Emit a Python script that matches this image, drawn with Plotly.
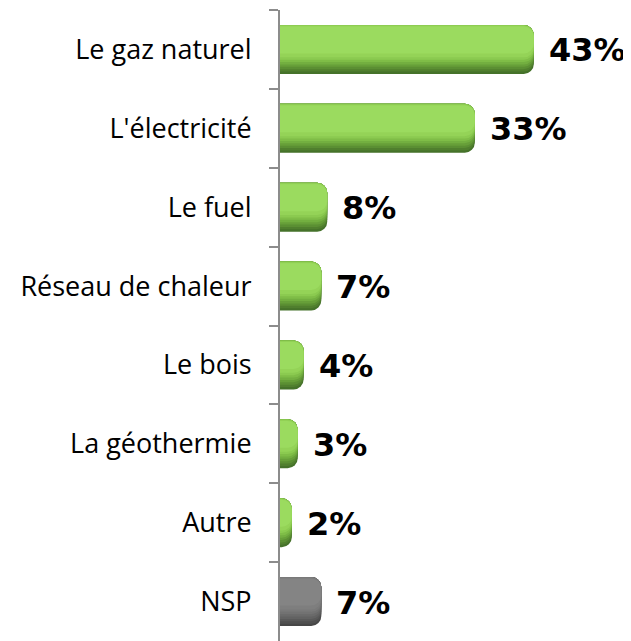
import plotly.graph_objects as go

categories = ["Le gaz naturel", "L'électricité", "Le fuel", "Réseau de chaleur",
              "Le bois", "La géothermie", "Autre", "NSP"]
values = [43, 33, 8, 7, 4, 3, 2, 7]
labels = ["43%", "33%", "8%", "7%", "4%", "3%", "2%", "7%"]

is_nsp = [c == "NSP" for c in categories]

# gradient layers: (offset, width, green colour, grey colour)
layers = [
    (-0.31, 0.62, "#45722a", "#474747"),
    (-0.31, 0.59, "#507f2e", "#505050"),
    (-0.31, 0.56, "#5b8f33", "#595959"),
    (-0.31, 0.53, "#679f39", "#626262"),
    (-0.31, 0.50, "#73af40", "#6a6a6a"),
    (-0.31, 0.47, "#7fbd47", "#727272"),
    (-0.31, 0.44, "#8bca50", "#797979"),
    (-0.30, 0.40, "#94d357", "#7e7e7e"),
    (-0.29, 0.34, "#9bdb5f", "#848484"),
]

fig = go.Figure()
for off, w, g, gr in layers:
    fig.add_trace(go.Bar(y=categories, x=values, orientation="h", width=w, offset=off,
                         marker=dict(color=[gr if n else g for n in is_nsp],
                                     cornerradius=10, line=dict(width=0)),
                         hoverinfo="skip"))

for c, v, t in zip(categories, values, labels):
    fig.add_annotation(x=v, y=c, text=t, showarrow=False, xanchor="left", yanchor="middle",
                       xshift=13, yshift=-1,
                       font=dict(family="DejaVu Sans", size=32, color="black", weight="bold"))

fig.update_layout(
    width=631, height=641,
    margin=dict(l=272, r=19, t=2, b=8),
    plot_bgcolor="white", paper_bgcolor="white",
    barmode="overlay", showlegend=False,
    xaxis=dict(range=[0, 57.6], visible=False, automargin=False),
    yaxis=dict(autorange="reversed", type="category", automargin=False,
               showline=True, linecolor="#8c8c8c", linewidth=2,
               ticks="outside", ticklen=9, tickcolor="#8c8c8c", tickwidth=2,
               tickson="boundaries", ticklabelstandoff=21,
               tickfont=dict(family="Open Sans", size=27, color="black"),
               showgrid=False),
)

fig.write_html("out.html")
